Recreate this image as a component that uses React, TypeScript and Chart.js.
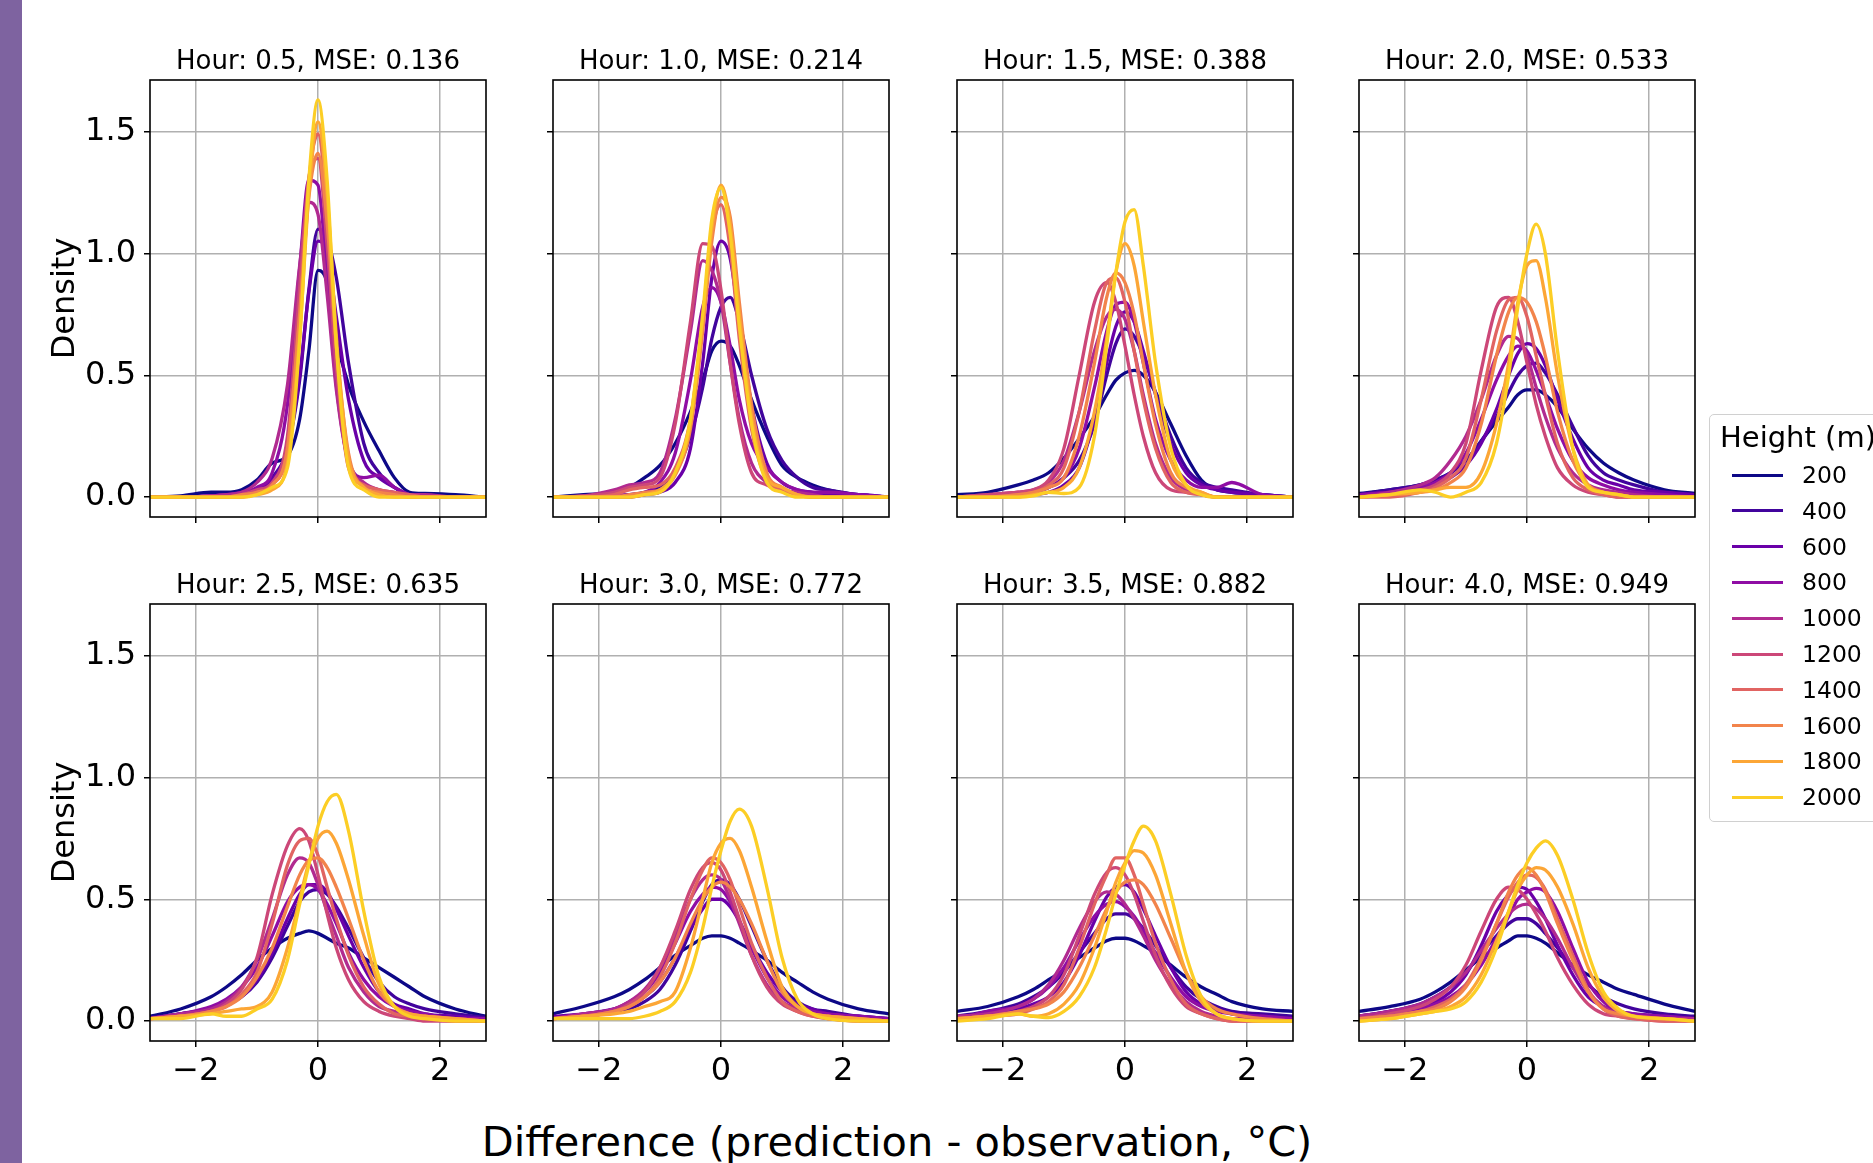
import React, { useEffect, useRef } from 'react';
import { Chart, registerables } from 'chart.js';

Chart.register(...registerables);

// x positions (°C) at which each density curve was read
const X_GRID = [-2.75, -2.25, -1.75, -1.5, -1.25, -1.0, -0.75, -0.5, -0.3, -0.15, 0, 0.15, 0.3, 0.5, 0.75, 1.0, 1.25, 1.5, 1.75, 2.25, 2.75];
const HEIGHTS = ['200', '400', '600', '800', '1000', '1200', '1400', '1600', '1800', '2000'];
const COLORS = ['#0d0887', '#41049d', '#6a00a8', '#8f0da4', '#b12a90', '#cc4778', '#e16462', '#f2844b', '#fca636', '#fcce25'];
const HOURS = ['0.5', '1.0', '1.5', '2.0', '2.5', '3.0', '3.5', '4.0'];
const MSE = ['0.136', '0.214', '0.388', '0.533', '0.635', '0.772', '0.882', '0.949'];
const X_TICKS = [-2, 0, 2];
const Y_TICKS = [0, 0.5, 1.0, 1.5];
const X_MIN = -2.75;
const X_MAX = 2.75;
const Y_MIN = -0.0815;
const Y_MAX = 1.7115;

// densities, one row per height (200 ... 2000), values at X_GRID
const DENS_H05 = [
  [0, 0.005, 0.02, 0.02, 0.03, 0.07, 0.14, 0.17, 0.32, 0.6, 0.93, 0.88, 0.65, 0.46, 0.31, 0.19, 0.08, 0.02, 0.015, 0.01, 0],
  [0, 0, 0.005, 0.01, 0.02, 0.03, 0.08, 0.2, 0.48, 0.85, 1.1, 1.06, 0.9, 0.55, 0.22, 0.1, 0.04, 0.01, 0.005, 0, 0],
  [0, 0, 0, 0.005, 0.01, 0.03, 0.07, 0.2, 0.5, 0.84, 1.05, 1.0, 0.74, 0.4, 0.15, 0.08, 0.04, 0.01, 0, 0, 0],
  [0, 0, 0.005, 0.01, 0.02, 0.04, 0.1, 0.38, 0.94, 1.3, 1.28, 0.9, 0.46, 0.15, 0.08, 0.09, 0.04, 0.01, 0, 0, 0],
  [0, 0, 0.005, 0.01, 0.02, 0.06, 0.16, 0.46, 0.95, 1.21, 1.16, 0.83, 0.44, 0.14, 0.06, 0.03, 0.02, 0.01, 0.01, 0, 0],
  [0, 0, 0, 0, 0.01, 0.03, 0.06, 0.25, 0.86, 1.31, 1.39, 1.03, 0.53, 0.12, 0.05, 0.03, 0.01, 0, 0, 0, 0],
  [0, 0, 0, 0, 0, 0.02, 0.05, 0.2, 0.76, 1.3, 1.49, 1.17, 0.62, 0.14, 0.05, 0.03, 0.02, 0.01, 0, 0, 0],
  [0, 0, 0, 0, 0.01, 0.02, 0.05, 0.2, 0.75, 1.23, 1.41, 1.12, 0.62, 0.18, 0.04, 0.02, 0.01, 0, 0, 0, 0],
  [0, 0, 0, 0, 0, 0.01, 0.03, 0.14, 0.66, 1.24, 1.54, 1.24, 0.66, 0.16, 0.04, 0.01, 0, 0, 0, 0, 0],
  [0, 0, 0, 0, 0, 0.01, 0.04, 0.12, 0.64, 1.3, 1.63, 1.3, 0.62, 0.12, 0.03, 0, 0, 0, 0, 0, 0],
];

const DENS_H10 = [
  [0, 0.01, 0.02, 0.04, 0.08, 0.13, 0.22, 0.35, 0.48, 0.6, 0.64, 0.62, 0.54, 0.4, 0.25, 0.13, 0.08, 0.05, 0.03, 0.01, 0],
  [0, 0, 0.005, 0.01, 0.02, 0.04, 0.1, 0.25, 0.45, 0.65, 0.78, 0.82, 0.72, 0.5, 0.28, 0.15, 0.08, 0.04, 0.03, 0.01, 0],
  [0, 0, 0, 0, 0.01, 0.02, 0.06, 0.2, 0.55, 0.9, 1.05, 0.98, 0.72, 0.38, 0.14, 0.06, 0.03, 0.02, 0.01, 0.01, 0],
  [0, 0, 0.005, 0.01, 0.02, 0.06, 0.18, 0.48, 0.78, 0.86, 0.8, 0.62, 0.4, 0.22, 0.12, 0.06, 0.03, 0.02, 0.02, 0.01, 0],
  [0, 0.005, 0.03, 0.05, 0.06, 0.1, 0.32, 0.68, 0.97, 0.93, 0.8, 0.55, 0.32, 0.14, 0.06, 0.03, 0.02, 0.01, 0, 0, 0],
  [0, 0.005, 0.02, 0.04, 0.05, 0.08, 0.3, 0.72, 1.04, 1.03, 0.85, 0.55, 0.3, 0.1, 0.05, 0.03, 0.01, 0, 0, 0, 0],
  [0, 0, 0.01, 0.03, 0.04, 0.05, 0.12, 0.32, 0.72, 1.08, 1.2, 1.02, 0.65, 0.28, 0.07, 0.03, 0.01, 0, 0, 0, 0],
  [0, 0, 0, 0.01, 0.02, 0.03, 0.09, 0.28, 0.68, 1.05, 1.23, 1.15, 0.8, 0.38, 0.1, 0.04, 0.01, 0, 0, 0, 0],
  [0, 0, 0, 0, 0.01, 0.03, 0.1, 0.3, 0.72, 1.1, 1.28, 1.12, 0.75, 0.33, 0.08, 0.04, 0.01, 0, 0, 0, 0],
  [0, 0, 0, 0, 0.01, 0.02, 0.1, 0.32, 0.75, 1.14, 1.27, 1.08, 0.7, 0.3, 0.06, 0.02, 0, 0, 0, 0, 0],
];

const DENS_H15 = [
  [0.01, 0.02, 0.05, 0.07, 0.1, 0.16, 0.24, 0.33, 0.42, 0.48, 0.51, 0.52, 0.5, 0.43, 0.3, 0.17, 0.07, 0.03, 0.02, 0.01, 0],
  [0, 0.005, 0.01, 0.02, 0.04, 0.08, 0.15, 0.3, 0.5, 0.63, 0.69, 0.66, 0.58, 0.43, 0.25, 0.12, 0.06, 0.04, 0.03, 0.01, 0],
  [0, 0, 0.005, 0.01, 0.02, 0.05, 0.12, 0.32, 0.55, 0.7, 0.76, 0.72, 0.6, 0.42, 0.22, 0.1, 0.05, 0.03, 0.02, 0.01, 0],
  [0, 0, 0.01, 0.02, 0.04, 0.08, 0.2, 0.45, 0.68, 0.79, 0.8, 0.72, 0.55, 0.32, 0.15, 0.07, 0.04, 0.04, 0.06, 0.01, 0],
  [0, 0.01, 0.02, 0.03, 0.06, 0.15, 0.35, 0.6, 0.74, 0.77, 0.73, 0.6, 0.42, 0.22, 0.08, 0.03, 0.01, 0, 0, 0, 0],
  [0, 0.01, 0.02, 0.03, 0.07, 0.2, 0.5, 0.8, 0.88, 0.8, 0.62, 0.42, 0.25, 0.1, 0.03, 0.02, 0.01, 0, 0, 0, 0],
  [0, 0, 0.01, 0.02, 0.05, 0.12, 0.35, 0.68, 0.88, 0.9, 0.8, 0.6, 0.4, 0.2, 0.06, 0.02, 0.01, 0, 0, 0, 0],
  [0, 0, 0.01, 0.02, 0.04, 0.08, 0.25, 0.55, 0.82, 0.92, 0.88, 0.75, 0.55, 0.3, 0.1, 0.04, 0.02, 0, 0, 0, 0],
  [0, 0, 0, 0.01, 0.02, 0.04, 0.12, 0.35, 0.65, 0.92, 1.04, 0.95, 0.72, 0.42, 0.15, 0.05, 0.02, 0, 0, 0, 0],
  [0, 0, 0, 0.005, 0.02, 0.015, 0.04, 0.25, 0.62, 0.92, 1.13, 1.18, 0.95, 0.55, 0.2, 0.05, 0.01, 0, 0, 0, 0],
];

const DENS_H20 = [
  [0.015, 0.03, 0.05, 0.07, 0.1, 0.15, 0.23, 0.31, 0.37, 0.42, 0.44, 0.44, 0.42, 0.37, 0.28, 0.2, 0.14, 0.1, 0.07, 0.03, 0.015],
  [0.01, 0.03, 0.05, 0.07, 0.1, 0.15, 0.23, 0.33, 0.43, 0.5, 0.54, 0.55, 0.51, 0.42, 0.29, 0.17, 0.1, 0.07, 0.05, 0.02, 0.01],
  [0.01, 0.02, 0.04, 0.05, 0.08, 0.13, 0.22, 0.36, 0.5, 0.59, 0.63, 0.61, 0.54, 0.4, 0.24, 0.12, 0.07, 0.05, 0.03, 0.02, 0.01],
  [0.01, 0.02, 0.04, 0.06, 0.1, 0.18, 0.32, 0.48, 0.58, 0.62, 0.6, 0.52, 0.42, 0.28, 0.15, 0.08, 0.05, 0.03, 0.02, 0.01, 0],
  [0, 0.02, 0.05, 0.08, 0.15, 0.25, 0.4, 0.58, 0.66, 0.65, 0.58, 0.45, 0.33, 0.2, 0.1, 0.05, 0.03, 0.02, 0.01, 0, 0],
  [0, 0.01, 0.03, 0.05, 0.1, 0.22, 0.52, 0.78, 0.82, 0.72, 0.55, 0.38, 0.25, 0.12, 0.05, 0.02, 0.01, 0, 0, 0, 0],
  [0, 0, 0.02, 0.04, 0.08, 0.16, 0.4, 0.68, 0.81, 0.82, 0.74, 0.58, 0.42, 0.22, 0.08, 0.03, 0.01, 0, 0, 0, 0],
  [0, 0.01, 0.02, 0.03, 0.06, 0.12, 0.3, 0.58, 0.76, 0.82, 0.8, 0.72, 0.58, 0.35, 0.15, 0.05, 0.02, 0.01, 0, 0, 0],
  [0, 0.01, 0.02, 0.03, 0.04, 0.04, 0.1, 0.3, 0.55, 0.8, 0.95, 0.97, 0.82, 0.5, 0.2, 0.05, 0.02, 0.01, 0, 0, 0],
  [0, 0.01, 0.03, 0.02, 0.0, 0.02, 0.06, 0.22, 0.5, 0.78, 1.0, 1.12, 1.0, 0.6, 0.2, 0.04, 0.02, 0.01, 0, 0, 0],
];

const DENS_H25 = [
  [0.02, 0.05, 0.1, 0.14, 0.19, 0.25, 0.3, 0.34, 0.36, 0.37, 0.36, 0.34, 0.32, 0.3, 0.26, 0.22, 0.18, 0.14, 0.1, 0.05, 0.02],
  [0.015, 0.03, 0.05, 0.07, 0.1, 0.16, 0.26, 0.39, 0.49, 0.53, 0.54, 0.52, 0.47, 0.38, 0.26, 0.16, 0.1, 0.07, 0.05, 0.03, 0.015],
  [0.01, 0.03, 0.05, 0.07, 0.1, 0.17, 0.28, 0.42, 0.52, 0.56, 0.56, 0.53, 0.46, 0.35, 0.22, 0.12, 0.07, 0.05, 0.03, 0.02, 0.01],
  [0.01, 0.03, 0.06, 0.09, 0.14, 0.22, 0.35, 0.49, 0.55, 0.56, 0.54, 0.48, 0.4, 0.28, 0.17, 0.1, 0.06, 0.04, 0.03, 0.01, 0.01],
  [0.01, 0.03, 0.05, 0.08, 0.14, 0.25, 0.42, 0.6, 0.67, 0.65, 0.56, 0.45, 0.35, 0.22, 0.12, 0.06, 0.04, 0.02, 0.01, 0, 0],
  [0.01, 0.02, 0.04, 0.07, 0.13, 0.26, 0.52, 0.72, 0.79, 0.74, 0.6, 0.44, 0.3, 0.17, 0.08, 0.04, 0.02, 0.01, 0, 0, 0],
  [0.01, 0.02, 0.04, 0.06, 0.11, 0.2, 0.4, 0.64, 0.74, 0.75, 0.68, 0.55, 0.42, 0.27, 0.14, 0.07, 0.03, 0.02, 0.01, 0, 0],
  [0.01, 0.02, 0.04, 0.06, 0.1, 0.18, 0.3, 0.47, 0.6, 0.66, 0.67, 0.63, 0.55, 0.42, 0.25, 0.12, 0.06, 0.03, 0.02, 0.01, 0],
  [0.01, 0.02, 0.03, 0.04, 0.05, 0.06, 0.12, 0.3, 0.5, 0.65, 0.75, 0.78, 0.73, 0.58, 0.35, 0.15, 0.06, 0.03, 0.02, 0.01, 0],
  [0.01, 0.01, 0.03, 0.02, 0.02, 0.05, 0.09, 0.25, 0.48, 0.64, 0.8, 0.9, 0.93, 0.78, 0.45, 0.18, 0.06, 0.02, 0.01, 0, 0],
];

const DENS_H30 = [
  [0.03, 0.06, 0.1, 0.13, 0.17, 0.22, 0.27, 0.31, 0.34, 0.35, 0.35, 0.34, 0.32, 0.29, 0.25, 0.2, 0.16, 0.12, 0.09, 0.05, 0.03],
  [0.01, 0.02, 0.04, 0.05, 0.08, 0.13, 0.23, 0.37, 0.49, 0.56, 0.58, 0.56, 0.5, 0.39, 0.25, 0.14, 0.08, 0.05, 0.04, 0.02, 0.01],
  [0.02, 0.03, 0.05, 0.07, 0.1, 0.16, 0.26, 0.38, 0.46, 0.5, 0.5, 0.47, 0.41, 0.31, 0.2, 0.12, 0.07, 0.05, 0.03, 0.02, 0.01],
  [0.01, 0.03, 0.05, 0.08, 0.12, 0.2, 0.32, 0.45, 0.52, 0.55, 0.54, 0.49, 0.41, 0.3, 0.18, 0.1, 0.06, 0.04, 0.03, 0.02, 0.01],
  [0.01, 0.03, 0.05, 0.08, 0.13, 0.22, 0.35, 0.5, 0.58, 0.6, 0.58, 0.5, 0.4, 0.27, 0.15, 0.08, 0.05, 0.03, 0.02, 0.01, 0],
  [0.01, 0.02, 0.04, 0.07, 0.12, 0.22, 0.37, 0.54, 0.63, 0.65, 0.62, 0.53, 0.42, 0.27, 0.14, 0.07, 0.04, 0.02, 0.01, 0, 0],
  [0.01, 0.02, 0.04, 0.06, 0.1, 0.18, 0.32, 0.5, 0.62, 0.67, 0.65, 0.58, 0.47, 0.32, 0.18, 0.08, 0.04, 0.02, 0.01, 0, 0],
  [0.01, 0.02, 0.04, 0.06, 0.1, 0.16, 0.26, 0.4, 0.5, 0.55, 0.57, 0.55, 0.5, 0.4, 0.25, 0.12, 0.06, 0.03, 0.02, 0.01, 0],
  [0.01, 0.02, 0.03, 0.04, 0.06, 0.08, 0.12, 0.3, 0.5, 0.65, 0.73, 0.75, 0.7, 0.55, 0.33, 0.14, 0.06, 0.03, 0.02, 0.01, 0],
  [0.01, 0.01, 0.01, 0.01, 0.02, 0.04, 0.08, 0.2, 0.38, 0.55, 0.7, 0.82, 0.87, 0.8, 0.55, 0.26, 0.09, 0.03, 0.01, 0, 0],
];

const DENS_H35 = [
  [0.04, 0.06, 0.1, 0.13, 0.17, 0.21, 0.26, 0.3, 0.33, 0.34, 0.34, 0.33, 0.31, 0.28, 0.23, 0.18, 0.14, 0.11, 0.08, 0.05, 0.04],
  [0.02, 0.04, 0.07, 0.1, 0.14, 0.2, 0.28, 0.36, 0.42, 0.44, 0.44, 0.42, 0.38, 0.31, 0.22, 0.14, 0.09, 0.06, 0.04, 0.03, 0.02],
  [0.01, 0.03, 0.05, 0.07, 0.1, 0.16, 0.27, 0.41, 0.51, 0.55, 0.56, 0.53, 0.46, 0.35, 0.22, 0.12, 0.07, 0.05, 0.03, 0.02, 0.01],
  [0.01, 0.04, 0.06, 0.09, 0.14, 0.22, 0.33, 0.43, 0.48, 0.49, 0.47, 0.43, 0.37, 0.28, 0.18, 0.1, 0.06, 0.04, 0.03, 0.02, 0.01],
  [0.02, 0.03, 0.06, 0.09, 0.15, 0.25, 0.38, 0.49, 0.53, 0.52, 0.48, 0.42, 0.35, 0.25, 0.15, 0.08, 0.04, 0.02, 0.01, 0.01, 0],
  [0.01, 0.02, 0.04, 0.06, 0.1, 0.19, 0.35, 0.52, 0.61, 0.63, 0.6, 0.52, 0.41, 0.27, 0.14, 0.06, 0.03, 0.01, 0, 0, 0],
  [0.01, 0.02, 0.03, 0.05, 0.08, 0.15, 0.3, 0.48, 0.6, 0.67, 0.67, 0.6, 0.48, 0.32, 0.17, 0.07, 0.03, 0.01, 0, 0, 0],
  [0.01, 0.02, 0.04, 0.05, 0.07, 0.12, 0.22, 0.35, 0.46, 0.53, 0.57, 0.58, 0.56, 0.48, 0.34, 0.2, 0.1, 0.05, 0.03, 0.01, 0],
  [0.01, 0.02, 0.03, 0.02, 0.03, 0.07, 0.15, 0.3, 0.45, 0.57, 0.65, 0.7, 0.69, 0.6, 0.4, 0.2, 0.08, 0.03, 0.01, 0, 0],
  [0, 0.01, 0.03, 0.02, 0.015, 0.04, 0.1, 0.22, 0.38, 0.52, 0.64, 0.74, 0.8, 0.74, 0.52, 0.27, 0.1, 0.03, 0.01, 0, 0],
];

const DENS_H40 = [
  [0.04, 0.06, 0.09, 0.12, 0.16, 0.21, 0.26, 0.3, 0.33, 0.35, 0.35, 0.34, 0.32, 0.28, 0.23, 0.19, 0.16, 0.13, 0.11, 0.07, 0.04],
  [0.02, 0.04, 0.07, 0.1, 0.14, 0.2, 0.28, 0.35, 0.4, 0.42, 0.42, 0.4, 0.36, 0.3, 0.22, 0.15, 0.1, 0.07, 0.05, 0.03, 0.02],
  [0.02, 0.04, 0.06, 0.08, 0.12, 0.19, 0.31, 0.45, 0.52, 0.55, 0.54, 0.49, 0.42, 0.31, 0.19, 0.1, 0.06, 0.04, 0.03, 0.02, 0.01],
  [0.01, 0.03, 0.05, 0.07, 0.1, 0.15, 0.23, 0.34, 0.43, 0.5, 0.53, 0.545, 0.53, 0.45, 0.3, 0.16, 0.08, 0.04, 0.03, 0.02, 0.01],
  [0.02, 0.04, 0.07, 0.1, 0.14, 0.2, 0.29, 0.38, 0.44, 0.47, 0.48, 0.46, 0.42, 0.34, 0.22, 0.12, 0.06, 0.03, 0.02, 0.01, 0.01],
  [0.01, 0.03, 0.06, 0.09, 0.14, 0.23, 0.37, 0.5, 0.55, 0.54, 0.5, 0.44, 0.37, 0.26, 0.15, 0.07, 0.03, 0.02, 0.01, 0, 0],
  [0.01, 0.02, 0.04, 0.06, 0.09, 0.15, 0.26, 0.4, 0.51, 0.57, 0.6, 0.59, 0.54, 0.42, 0.27, 0.13, 0.05, 0.02, 0.01, 0, 0],
  [0.01, 0.02, 0.04, 0.05, 0.08, 0.14, 0.25, 0.4, 0.53, 0.6, 0.63, 0.6, 0.53, 0.4, 0.25, 0.12, 0.05, 0.03, 0.02, 0.01, 0],
  [0, 0.01, 0.03, 0.04, 0.06, 0.1, 0.19, 0.33, 0.45, 0.54, 0.6, 0.63, 0.62, 0.55, 0.4, 0.22, 0.1, 0.04, 0.02, 0.01, 0],
  [0, 0.01, 0.03, 0.04, 0.05, 0.08, 0.16, 0.3, 0.45, 0.56, 0.65, 0.71, 0.74, 0.68, 0.5, 0.28, 0.12, 0.05, 0.02, 0.01, 0],
];

const PANELS = [DENS_H05, DENS_H10, DENS_H15, DENS_H20, DENS_H25, DENS_H30, DENS_H35, DENS_H40];

// layout (px)
const FONT = "'DejaVu Sans', 'Liberation Sans', sans-serif";
const PANEL_LEFT = [150, 553, 957, 1359];
const PANEL_TOP = [80, 604];
const PANEL_W = 336;
const PANEL_H = 437;
const AXW = 130;
const TOPH = 44;
const BOTH = 70;

const framePlugin = {
  id: 'frame',
  afterDatasetsDraw(chart: any) {
    const { ctx, chartArea: a } = chart;
    ctx.save();
    ctx.strokeStyle = '#000';
    ctx.lineWidth = 1.6;
    ctx.strokeRect(a.left, a.top, a.right - a.left, a.bottom - a.top);
    ctx.restore();
  },
};

function Panel({ idx }: { idx: number }) {
  const ref = useRef<HTMLCanvasElement>(null);
  const row = Math.floor(idx / 4);
  const col = idx % 4;
  const cw = AXW + PANEL_W + AXW;
  const ch = TOPH + PANEL_H + BOTH;
  useEffect(() => {
    const rows = PANELS[idx];
    const chart = new Chart(ref.current as HTMLCanvasElement, {
      type: 'line',
      data: {
        datasets: rows.map((ys, i) => ({
          label: HEIGHTS[i],
          data: ys.map((y, j) => ({ x: X_GRID[j], y })),
          borderColor: COLORS[i],
          backgroundColor: COLORS[i],
          borderWidth: 3.3,
          pointRadius: 0,
          cubicInterpolationMode: 'monotone',
          fill: false,
          order: 9 - i,
        })),
      },
      options: {
        responsive: false,
        animation: false,
        events: [],
        layout: { padding: { left: 0, right: AXW, top: 0, bottom: 0 } },
        plugins: {
          legend: { display: false },
          tooltip: { enabled: false },
          title: {
            display: true,
            fullSize: false,
            align: 'center',
            text: `Hour: ${HOURS[idx]}, MSE: ${MSE[idx]}`,
            color: '#000',
            font: { family: FONT, size: 26, weight: 'normal', lineHeight: 1.2 },
            padding: { top: 10.4, bottom: 2.4 },
          },
        },
        scales: {
          x: {
            type: 'linear',
            min: X_MIN,
            max: X_MAX,
            afterBuildTicks: (s: any) => {
              s.ticks = X_TICKS.map((v) => ({ value: v }));
            },
            afterFit: (s: any) => {
              s.height = BOTH;
            },
            ticks: {
              autoSkip: false,
              maxRotation: 0,
              color: '#000',
              padding: 5,
              font: { family: FONT, size: 32 },
              callback: (v: any) => (row === 1 ? (v < 0 ? '\u2212' + Math.abs(v) : String(v)) : ''),
            },
            grid: { color: '#b0b0b0', lineWidth: 1.5, tickColor: '#000', tickLength: 6, tickWidth: 1.5, drawTicks: true },
            border: { display: false },
          },
          y: {
            type: 'linear',
            min: Y_MIN,
            max: Y_MAX,
            afterBuildTicks: (s: any) => {
              s.ticks = Y_TICKS.map((v) => ({ value: v }));
            },
            afterFit: (s: any) => {
              s.width = AXW;
            },
            ticks: {
              autoSkip: false,
              color: '#000',
              padding: 8,
              font: { family: FONT, size: 32 },
              callback: (v: any) => (col === 0 ? Number(v).toFixed(1) : ''),
            },
            grid: { color: '#b0b0b0', lineWidth: 1.5, tickColor: '#000', tickLength: 6, tickWidth: 1.5, drawTicks: true },
            border: { display: false },
            title: {
              display: col === 0,
              text: 'Density',
              color: '#000',
              font: { family: FONT, size: 32, lineHeight: 1.2 },
              padding: { top: 26.5, bottom: 0 },
            },
          },
        },
      } as any,
      plugins: [framePlugin],
    });
    return () => chart.destroy();
  }, [idx]);
  return (
    <canvas
      ref={ref}
      width={cw}
      height={ch}
      style={{
        position: 'absolute',
        left: PANEL_LEFT[col] - AXW,
        top: PANEL_TOP[row] - TOPH,
        width: cw,
        height: ch,
      }}
    />
  );
}

export default function App() {
  return (
    <div
      style={{
        position: 'fixed',
        left: 0,
        top: 0,
        width: 1873,
        height: 1163,
        overflow: 'hidden',
        background: '#fff',
        fontFamily: FONT,
      }}
    >
      <div style={{ position: 'absolute', left: 0, top: 0, width: 22, height: 1163, background: '#7e63a0' }} />
      {PANELS.map((_, i) => (
        <Panel key={i} idx={i} />
      ))}
      <div
        style={{
          position: 'absolute',
          left: 297,
          width: 1200,
          top: 1117,
          height: 50,
          lineHeight: '50px',
          fontSize: 41.5,
          textAlign: 'center',
          color: '#000',
          whiteSpace: 'nowrap',
        }}
      >
        Difference (prediction - observation, °C)
      </div>
      <div
        style={{
          position: 'absolute',
          left: 1709,
          top: 414,
          width: 200,
          height: 406,
          border: '1.5px solid #d0d0d0',
          borderRadius: 5,
          background: 'rgba(255,255,255,0.8)',
        }}
      />
      <div
        style={{
          position: 'absolute',
          left: 1720,
          top: 420,
          height: 34,
          lineHeight: '34px',
          fontSize: 29,
          color: '#000',
          whiteSpace: 'nowrap',
        }}
      >
        Height (m)
      </div>
      {HEIGHTS.map((h, i) => {
        const cy = 475 + 35.8 * i;
        return (
          <React.Fragment key={h}>
            <div style={{ position: 'absolute', left: 1732, top: cy - 1.5, width: 51, height: 3, background: COLORS[i] }} />
            <div
              style={{
                position: 'absolute',
                left: 1802,
                top: cy - 15,
                height: 30,
                lineHeight: '30px',
                fontSize: 23.5,
                color: '#000',
                whiteSpace: 'nowrap',
              }}
            >
              {h}
            </div>
          </React.Fragment>
        );
      })}
    </div>
  );
}
